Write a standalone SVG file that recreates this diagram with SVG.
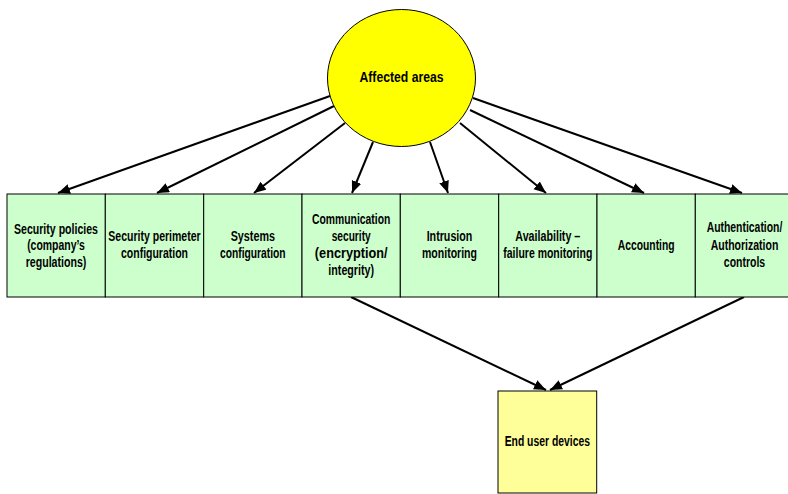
<svg xmlns="http://www.w3.org/2000/svg" width="788" height="494" viewBox="0 0 788 494">
  <style>
    .area { fill: #CCFFCC; stroke: #000; stroke-width: 1; }
    .hub { fill: #FFFF00; stroke: #000; stroke-width: 1; }
    .device { fill: #FFFF99; stroke: #000; stroke-width: 1; }
    text { font-family: "Liberation Sans", Arial, sans-serif; font-weight: bold; font-size: 14px; fill: #000; text-anchor: middle; }
    .big { font-size: 14.5px; }
    .link { stroke: #000; stroke-width: 2; fill: none; marker-end: url(#arrow); }
  </style>
  <defs>
    <marker id="arrow" markerUnits="userSpaceOnUse" markerWidth="14" markerHeight="12" refX="12" refY="5" orient="auto">
      <path d="M0,0 L12,5 L0,10 z" fill="#000"/>
    </marker>
  </defs>

  <rect width="788" height="494" fill="#fff"/>

  <!-- connectors -->
  <g id="connectors">
    <line class="link" x1="330" y1="96" x2="58" y2="193"/>
    <line class="link" x1="334" y1="106" x2="157" y2="193"/>
    <line class="link" x1="345" y1="123" x2="254" y2="193"/>
    <line class="link" x1="373" y1="142" x2="352" y2="193"/>
    <line class="link" x1="430" y1="142" x2="448" y2="193"/>
    <line class="link" x1="460" y1="123" x2="546" y2="193"/>
    <line class="link" x1="470" y1="110" x2="644" y2="193"/>
    <line class="link" x1="473" y1="98" x2="742" y2="193"/>
    <line class="link" x1="351" y1="297" x2="546" y2="390"/>
    <line class="link" x1="744" y1="297" x2="550" y2="390"/>
  </g>

  <!-- central node -->
  <g id="affected-areas">
    <ellipse class="hub" cx="401.5" cy="78" rx="74" ry="68.5"/>
    <text class="big" x="401.5" y="82" textLength="84" lengthAdjust="spacingAndGlyphs">Affected areas</text>
  </g>

  <!-- area boxes -->
  <g id="security-policies">
    <rect class="area" x="7" y="194" width="98.3" height="103"/>
    <text x="56" y="233.5" textLength="84" lengthAdjust="spacingAndGlyphs">Security policies</text>
    <text x="56" y="250" textLength="57.7" lengthAdjust="spacingAndGlyphs">(company’s</text>
    <text x="56" y="266.5" textLength="60.7" lengthAdjust="spacingAndGlyphs">regulations)</text>
  </g>
  <g id="security-perimeter">
    <rect class="area" x="105.3" y="194" width="98.4" height="103"/>
    <text x="154.5" y="241" textLength="92.3" lengthAdjust="spacingAndGlyphs">Security perimeter</text>
    <text x="154.5" y="258" textLength="67" lengthAdjust="spacingAndGlyphs">configuration</text>
  </g>
  <g id="systems-configuration">
    <rect class="area" x="203.7" y="194" width="98.3" height="103"/>
    <text x="252.8" y="241" textLength="44.3" lengthAdjust="spacingAndGlyphs">Systems</text>
    <text x="252.8" y="258" textLength="65.7" lengthAdjust="spacingAndGlyphs">configuration</text>
  </g>
  <g id="communication-security">
    <rect class="area" x="302" y="194" width="98.3" height="103"/>
    <text x="351.2" y="223.5" textLength="78.3" lengthAdjust="spacingAndGlyphs">Communication</text>
    <text x="351.2" y="241" textLength="39" lengthAdjust="spacingAndGlyphs">security</text>
    <text x="351.2" y="258" textLength="72.7" lengthAdjust="spacingAndGlyphs">(encryption/</text>
    <text x="351.2" y="275" textLength="45.7" lengthAdjust="spacingAndGlyphs">integrity)</text>
  </g>
  <g id="intrusion-monitoring">
    <rect class="area" x="400.3" y="194" width="98.4" height="103"/>
    <text x="449.5" y="241" textLength="45.7" lengthAdjust="spacingAndGlyphs">Intrusion</text>
    <text x="449.5" y="258" textLength="55" lengthAdjust="spacingAndGlyphs">monitoring</text>
  </g>
  <g id="availability">
    <rect class="area" x="498.7" y="194" width="98.3" height="103"/>
    <text x="547.8" y="241" textLength="65" lengthAdjust="spacingAndGlyphs">Availability –</text>
    <text x="547.8" y="258" textLength="89" lengthAdjust="spacingAndGlyphs">failure monitoring</text>
  </g>
  <g id="accounting">
    <rect class="area" x="597" y="194" width="98.3" height="103"/>
    <text x="646.2" y="249.5" textLength="56.7" lengthAdjust="spacingAndGlyphs">Accounting</text>
  </g>
  <g id="authentication">
    <rect class="area" x="695.3" y="194" width="98.3" height="103"/>
    <text x="744.5" y="232" textLength="75.7" lengthAdjust="spacingAndGlyphs">Authentication/</text>
    <text x="744.5" y="249.5" textLength="67.7" lengthAdjust="spacingAndGlyphs">Authorization</text>
    <text x="744.5" y="266.5" textLength="41.3" lengthAdjust="spacingAndGlyphs">controls</text>
  </g>

  <!-- destination node -->
  <g id="end-user-devices">
    <rect class="device" x="498" y="391" width="98.7" height="102"/>
    <text x="547.3" y="446" textLength="85.3" lengthAdjust="spacingAndGlyphs">End user devices</text>
  </g>
</svg>
